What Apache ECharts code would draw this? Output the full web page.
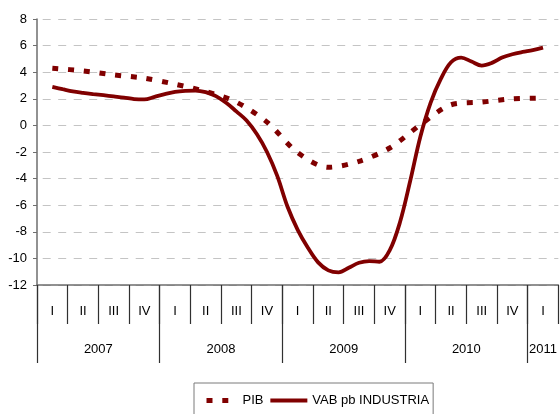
<!DOCTYPE html>
<html>
<head>
<meta charset="utf-8">
<script src="https://cdn.jsdelivr.net/npm/echarts@6/dist/echarts.min.js"></script>
<style>
  html, body { margin: 0; padding: 0; background: #fff; }
  #chart { width: 560px; height: 414px; }
</style>
</head>
<body>
<div id="chart"></div>
<script>
// Quarterly categories (2007 I – 2011 I)
const quarterLabels = ['I', 'II', 'III', 'IV', 'I', 'II', 'III', 'IV', 'I', 'II', 'III', 'IV',
                       'I', 'II', 'III', 'IV', 'I'];
const yearLabels = ['2007', '2008', '2009', '2010', '2011'];

// PIB, year-on-year rate (%), one value per quarter
const pibValues = [4.3, 4.1, 3.8, 3.55, 3.1, 2.55, 1.75, 0.25, -2.05, -3.15, -2.7, -1.7,
                   0.05, 1.55, 1.75, 2.0, 2.05];

// VAB pb INDUSTRIA, year-on-year rate (%), monthly from the middle of 2007 I
const vabMonthly = [2.9, 2.72, 2.55, 2.44, 2.35, 2.27, 2.18, 2.09, 1.98, 1.95, 2.15, 2.35,
                    2.52, 2.6, 2.62, 2.5, 2.2, 1.7, 1.05, 0.37, -0.65, -2.0, -3.8, -6.1,
                    -7.85, -9.2, -10.3, -10.9, -11.05, -10.7, -10.33, -10.2, -10.25, -9.4, -7.3, -4.2,
                    -0.85, 1.7, 3.5, 4.75, 5.1, 4.8, 4.5, 4.7, 5.1, 5.35, 5.52, 5.66,
                    5.85];

const yTicks = { min: -12, max: 8, step: 2 };

const FONT = '"Liberation Sans Narrow", "Arial Narrow", "Liberation Sans", Arial, sans-serif';
const FONT_SIZE = 13;
const RED = '#800000';
const PIB_LINE = { color: RED, width: 5, type: [6, 9.8], cap: 'butt' };
const VAB_LINE = { color: RED, width: 3.8 };

// Year boundaries sit at each quarter labelled 'I'
const yearStarts = quarterLabels.map((q, i) => q === 'I' ? i : -1).filter(i => i >= 0);
const yearCenters = yearStarts.map((s, k) => {
  const e = k + 1 < yearStarts.length ? yearStarts[k + 1] : quarterLabels.length;
  return (s + e) / 2;
});
const yearByCenter = {};
yearCenters.forEach((c, k) => { yearByCenter[c] = yearLabels[k]; });

const pibData = pibValues.map((v, i) => [i + 0.5, v]);
const vabData = vabMonthly.map((v, m) => [0.5 + m / 3, v]);

const chart = echarts.init(document.getElementById('chart'), null, { renderer: 'canvas' });

chart.setOption({
  animation: false,
  backgroundColor: '#ffffff',
  textStyle: { fontFamily: FONT },
  grid: { left: 37, top: 19, width: 525, height: 266, containLabel: false },
  xAxis: [
    {
      type: 'category',
      data: quarterLabels,
      position: 'bottom',
      boundaryGap: true,
      axisLine: { show: true, onZero: false, lineStyle: { color: '#6e6e6e', width: 1.5 } },
      axisTick: { show: true, length: 39, lineStyle: { color: '#303030', width: 1.2 } },
      axisLabel: { margin: 20, fontSize: FONT_SIZE, color: '#000', fontFamily: FONT, interval: 0 },
      splitLine: { show: false }
    },
    {
      type: 'value',
      min: 0,
      max: quarterLabels.length,
      position: 'bottom',
      axisLine: { show: false, onZero: false },
      axisTick: { show: true, length: 78, customValues: yearStarts,
                  lineStyle: { color: '#303030', width: 1.2 } },
      axisLabel: {
        margin: 58, fontSize: FONT_SIZE, color: '#000', fontFamily: FONT,
        customValues: yearCenters,
        formatter: v => yearByCenter[v] || ''
      },
      splitLine: { show: false }
    }
  ],
  yAxis: {
    type: 'value',
    min: yTicks.min,
    max: yTicks.max,
    interval: yTicks.step,
    axisLine: { show: true, lineStyle: { color: '#6e6e6e', width: 1.5 } },
    axisTick: { show: true, length: 4, lineStyle: { color: '#6e6e6e' } },
    axisLabel: { margin: 10, fontSize: FONT_SIZE, color: '#000', fontFamily: FONT },
    splitLine: {
      show: true,
      lineStyle: { color: '#c4c4c4', width: 1, type: [8, 7.5], dashOffset: 9.8 }
    }
  },
  legend: {
    left: 194,
    top: 383,
    orient: 'horizontal',
    padding: [11, 4, 12, 4],
    borderColor: '#7a7a7a',
    borderWidth: 1,
    itemWidth: 37,
    itemHeight: 14,
    itemGap: 5,
    itemStyle: { color: 'rgba(0,0,0,0)', borderWidth: 0, opacity: 0 },
    textStyle: { fontSize: FONT_SIZE, color: '#000', fontFamily: FONT },
    data: [
      { name: 'PIB', lineStyle: PIB_LINE },
      { name: 'VAB pb INDUSTRIA', lineStyle: VAB_LINE }
    ]
  },
  series: [
    {
      name: 'PIB',
      type: 'line',
      xAxisIndex: 1,
      data: pibData,
      smooth: 0.3,
      symbol: 'none',
      lineStyle: PIB_LINE,
      itemStyle: { color: RED },
      z: 3
    },
    {
      name: 'VAB pb INDUSTRIA',
      type: 'line',
      xAxisIndex: 1,
      data: vabData,
      smooth: 0.35,
      symbol: 'none',
      lineStyle: VAB_LINE,
      itemStyle: { color: RED },
      z: 4
    }
  ]
});
</script>
</body>
</html>
